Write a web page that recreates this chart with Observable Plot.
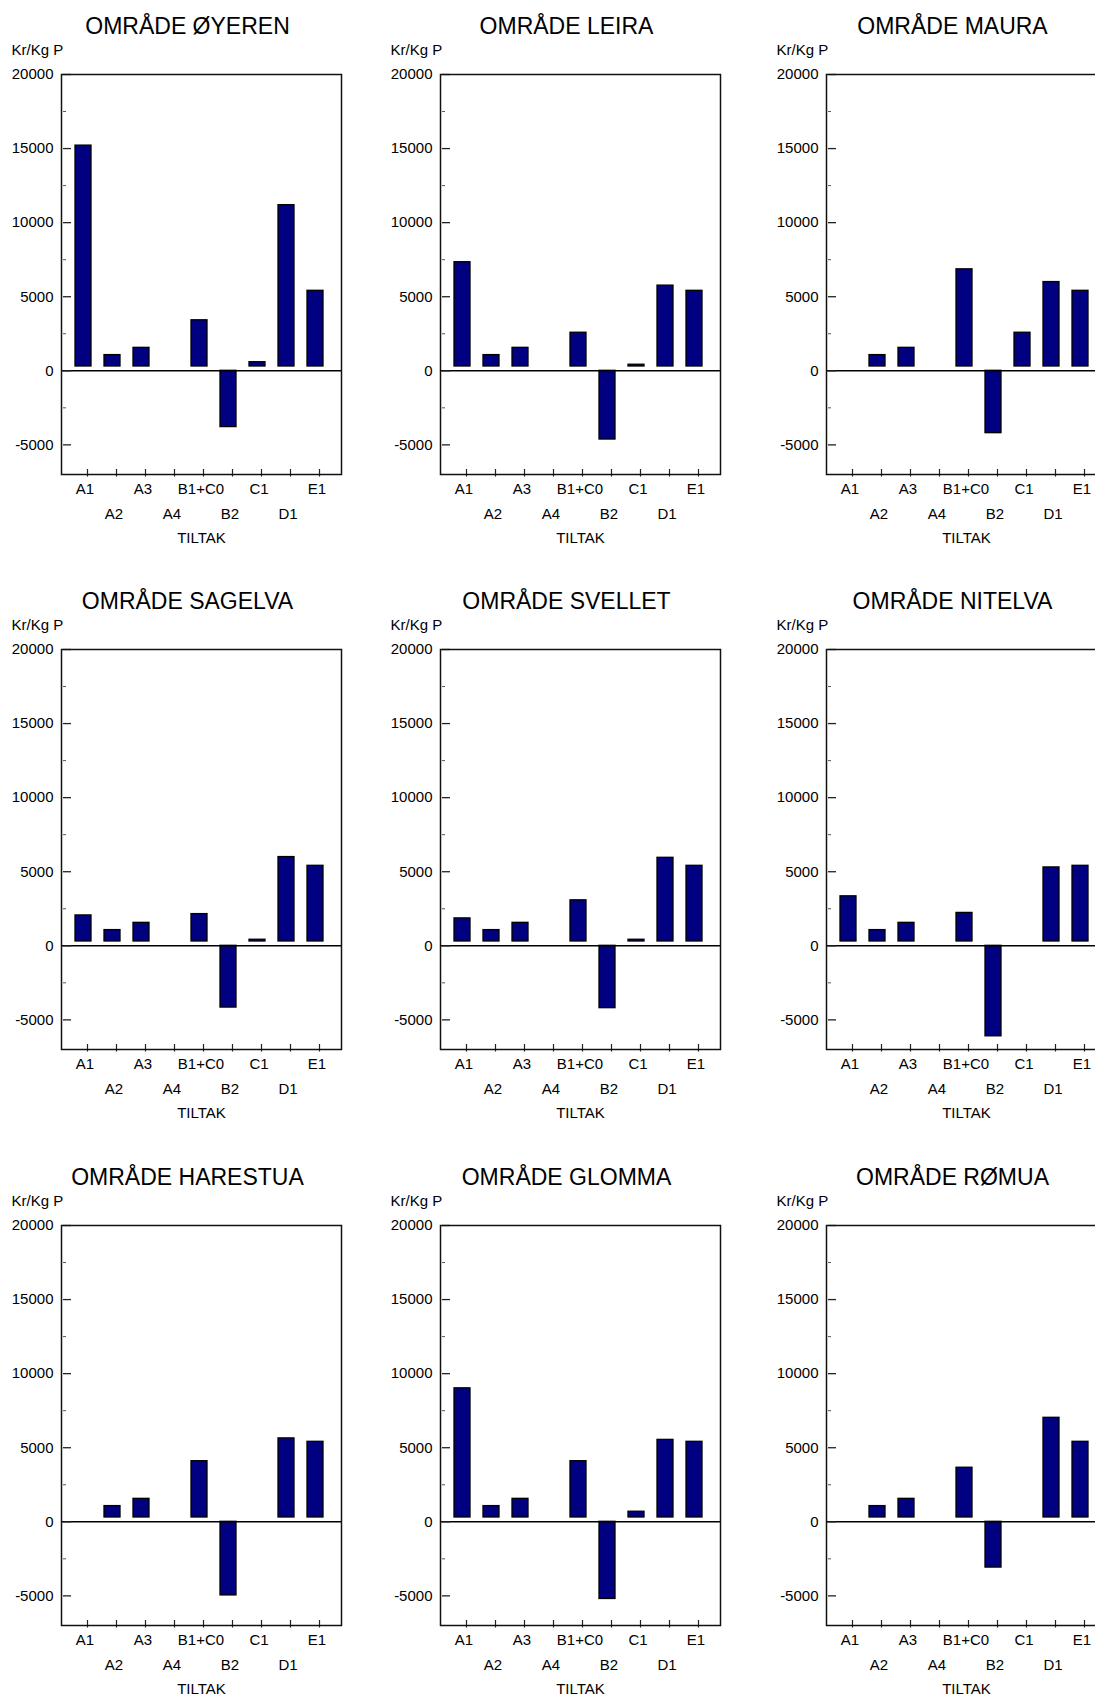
<!DOCTYPE html>
<html><head><meta charset="utf-8">
<script src="https://cdn.jsdelivr.net/npm/d3@7"></script>
<script src="https://cdn.jsdelivr.net/npm/@observablehq/plot@0.6"></script>
<style>
body{margin:0;background:#fff;overflow:hidden}
#wrap{position:relative;width:1095px;height:1697px;overflow:hidden;background:#fff}
.panel{position:absolute;width:361px}
.panel svg{max-width:none !important}
</style></head><body><div id="wrap"></div>
<script>
// Categories (TILTAK) and areas (OMRÅDE)
const tiltak = ["A1", "A2", "A3", "A4", "B1+C0", "B2", "C1", "D1", "E1"];
const omrader = ["ØYEREN", "LEIRA", "MAURA", "SAGELVA", "SVELLET", "NITELVA", "HARESTUA", "GLOMMA", "RØMUA"];

// Kr/Kg P per tiltak (null = no bar)
const oyeren   = [15200, 1060, 1550, null, 3410, -3800,  580, 11180, 5400];
const leira    = [ 7330, 1060, 1550, null, 2570, -4640,  410,  5750, 5400];
const maura    = [ null, 1060, 1550, null, 6850, -4210, 2570,  5990, 5400];
const sagelva  = [ 2050, 1060, 1550, null, 2140, -4170,  410,  5990, 5400];
const svellet  = [ 1850, 1060, 1550, null, 3070, -4210,  410,  5940, 5400];
const nitelva  = [ 3340, 1060, 1550, null, 2220, -6110, null,  5290, 5400];
const harestua = [ null, 1060, 1550, null, 4090, -4970, null,  5630, 5400];
const glomma   = [ 9010, 1060, 1550, null, 4090, -5210,  680,  5530, 5400];
const romua    = [ null, 1060, 1550, null, 3650, -3090, null,  7020, 5400];

const yTicks = [-5000, 0, 5000, 10000, 15000, 20000];
const yMinor = [-2500, 2500, 7500, 12500, 17500];

const series = [oyeren, leira, maura, sagelva, svellet, nitelva, harestua, glomma, romua];

const colLeft = [61, 440, 826];
const rowTop = [73.6, 648.5, 1224.5];
const FW = 280, FH = 400, ML = 61, MR = 20, MT = 62, MB = 78;
const FONT = "'Liberation Sans', Arial, Helvetica, sans-serif";

const wrap = document.getElementById("wrap");

omrader.forEach((name, k) => {
  const vals = series[k];
  const data = tiltak.map((t, i) => ({t, v: vals[i]})).filter(d => d.v != null);
  const pos = data.filter(d => d.v > 0);
  const neg = data.filter(d => d.v < 0);
  const chart = Plot.plot({
    width: ML + FW + MR, height: MT + FH + MB,
    marginLeft: ML, marginRight: MR, marginTop: MT, marginBottom: MB,
    style: {fontFamily: FONT, fontSize: "15px", color: "#000", background: "transparent", overflow: "visible", maxWidth: "none"},
    x: {type: "band", domain: tiltak, paddingInner: 0.435, paddingOuter: 0.455, align: 0.582},
    y: {domain: [-7000, 20000], nice: false},
    marks: [
      Plot.barY(pos, {x: "t", y: "v", fill: "#000080", stroke: "#000", strokeWidth: 1.3, insetBottom: 4.3, dx: -4}),
      Plot.barY(neg, {x: "t", y: "v", fill: "#000080", stroke: "#000", strokeWidth: 1.3, dx: -4}),
      Plot.ruleY([0], {stroke: "#000", strokeWidth: 1.5}),
      Plot.tickY(yTicks, {y: d => d, insetLeft: 2, insetRight: FW - 10, stroke: "#222", strokeWidth: 1.3}),
      Plot.tickY(yMinor, {y: d => d, insetLeft: 2, insetRight: FW - 5, stroke: "#555"}),
      Plot.axisY({ticks: yTicks, tickSize: 0, tickPadding: 8, tickFormat: d => String(d), label: null}),
      Plot.axisX({tickSize: 7.5, dy: -5, fill: "none", stroke: "#222", strokeWidth: 1.2, label: null}),
      Plot.axisX({ticks: tiltak.filter((_, i) => i % 2 === 0), tickSize: 0, tickPadding: 8.5, dx: -2.5, label: null}),
      Plot.axisX({ticks: tiltak.filter((_, i) => i % 2 === 1), tickSize: 0, tickPadding: 33.5, dx: -2.5, label: null}),
      Plot.frame({stroke: "#111", strokeWidth: 1.5}),
      Plot.text([`OMRÅDE ${name}`], {text: d => d, frameAnchor: "top-left", dx: 126, dy: -48, textAnchor: "middle", lineAnchor: "middle", fontSize: 23}),
      Plot.text(["Kr/Kg P"], {text: d => d, frameAnchor: "top-left", dx: -50, dy: -24, textAnchor: "start", lineAnchor: "middle", fontSize: 15}),
      Plot.text(["TILTAK"], {text: d => d, frameAnchor: "bottom", dy: 64, lineAnchor: "middle", fontSize: 15})
    ]
  });
  const div = document.createElement("div");
  div.className = "panel";
  div.style.left = (colLeft[k % 3] - ML) + "px";
  div.style.top = (rowTop[Math.floor(k / 3)] - MT) + "px";
  div.appendChild(chart);
  wrap.appendChild(div);
});
</script>
</body></html>
